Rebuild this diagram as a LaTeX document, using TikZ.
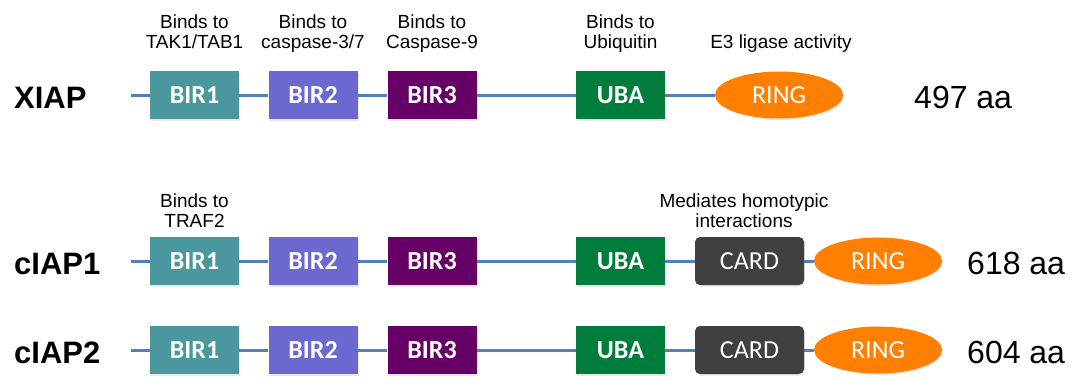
\documentclass[tikz,border=0pt]{standalone}
\usepackage{fontspec}
\setmainfont{Liberation Sans}
\newfontfamily\carlito{Carlito}
\usetikzlibrary{shapes.geometric,shadows}
\definecolor{cbirone}{HTML}{4A989E}
\definecolor{cbirtwo}{HTML}{6B69CF}
\definecolor{cbirthree}{HTML}{660066}
\definecolor{cuba}{HTML}{007D3C}
\definecolor{cring}{HTML}{FF8000}
\definecolor{ccard}{HTML}{404040}
\definecolor{cline}{HTML}{4F81BD}
\begin{document}
\begin{tikzpicture}[x=1pt,y=-1pt,
  dom/.style={rectangle, minimum width=89pt, minimum height=48pt, inner sep=0pt,
    text=white, font=\carlito\bfseries\fontsize{26}{26}\selectfont,
    drop shadow={shadow xshift=1pt, shadow yshift=-1.5pt, opacity=0.18}},
  cardbox/.style={rectangle, rounded corners=5pt, fill=ccard, minimum width=109pt, minimum height=48pt, inner sep=0pt,
    text=white, font=\carlito\fontsize{26}{26}\selectfont,
    drop shadow={shadow xshift=1pt, shadow yshift=-1.5pt, opacity=0.18}},
  ringnode/.style={ellipse, fill=cring, minimum width=128pt, minimum height=47pt, inner sep=0pt,
    text=white, font=\carlito\fontsize{26}{26}\selectfont,
    drop shadow={shadow xshift=1pt, shadow yshift=-1.5pt, opacity=0.18}},
  chain/.style={draw=cline, line width=3pt},
  protname/.style={anchor=base west, inner sep=0pt, font=\bfseries\fontsize{31}{31}\selectfont},
  aalen/.style={anchor=base west, inner sep=0pt, font=\fontsize{32}{32}\selectfont},
  note/.style={anchor=north, inner sep=0pt, align=center, font=\fontsize{19}{19.5}\selectfont},
  notebase/.style={anchor=base, inner sep=0pt, font=\fontsize{19}{19.5}\selectfont}
]
\useasboundingbox (0,0) rectangle (1079,378);

% ---------- XIAP ----------
\coordinate (s1) at (131,95);
\node[dom, fill=cbirone]   (a1) at (194.5,95) {BIR1};
\node[dom, fill=cbirtwo]   (b1) at (313,95) {BIR2};
\node[dom, fill=cbirthree] (c1) at (432,95) {BIR3};
\node[dom, fill=cuba]      (u1) at (620.5,95) {UBA};
\node[ringnode]            (r1) at (779,95) {RING};
\draw[chain] (s1) -- (a1.west);
\draw[chain] (a1.east) -- (b1.west);
\draw[chain] (b1.east) -- (c1.west);
\draw[chain] (c1.east) -- (u1.west);
\draw[chain] (u1.east) -- (r1.west);
\node[protname] (n1) at (14,108) {XIAP};
\node[aalen] (l1) at (914,108) {497 aa};
\node[note] (t1) at (194.5,15) {Binds to\\TAK1/TAB1};
\node[note] (t2) at (313,15) {Binds to\\caspase-3/7};
\node[note] (t3) at (432,15) {Binds to\\Caspase-9};
\node[note] (t4) at (620.5,15) {Binds to\\Ubiquitin};
\node[notebase] (t5) at (781,48) {E3 ligase activity};

% ---------- cIAP1 ----------
\coordinate (s2) at (131,261);
\node[dom, fill=cbirone]   (a2) at (194.5,261) {BIR1};
\node[dom, fill=cbirtwo]   (b2) at (313,261) {BIR2};
\node[dom, fill=cbirthree] (c2) at (432,261) {BIR3};
\node[dom, fill=cuba]      (u2) at (620.5,261) {UBA};
\node[cardbox]             (d2) at (749.5,261) {CARD};
\node[ringnode]            (r2) at (878,261) {RING};
\draw[chain] (s2) -- (a2.west);
\draw[chain] (a2.east) -- (b2.west);
\draw[chain] (b2.east) -- (c2.west);
\draw[chain] (c2.east) -- (u2.west);
\draw[chain] (u2.east) -- (d2.west);
\draw[chain] (d2.east) -- (r2.west);
\node[protname] (n2) at (14,274) {cIAP1};
\node[aalen] (l2) at (967,274) {618 aa};
\node[note] (t6) at (194.5,194) {Binds to\\TRAF2};
\node[note] (t7) at (744,194) {Mediates homotypic\\interactions};

% ---------- cIAP2 ----------
\coordinate (s3) at (131,350);
\node[dom, fill=cbirone]   (a3) at (194.5,350) {BIR1};
\node[dom, fill=cbirtwo]   (b3) at (313,350) {BIR2};
\node[dom, fill=cbirthree] (c3) at (432,350) {BIR3};
\node[dom, fill=cuba]      (u3) at (620.5,350) {UBA};
\node[cardbox]             (d3) at (749.5,350) {CARD};
\node[ringnode]            (r3) at (878,350) {RING};
\draw[chain] (s3) -- (a3.west);
\draw[chain] (a3.east) -- (b3.west);
\draw[chain] (b3.east) -- (c3.west);
\draw[chain] (c3.east) -- (u3.west);
\draw[chain] (u3.east) -- (d3.west);
\draw[chain] (d3.east) -- (r3.west);
\node[protname] (n3) at (14,363) {cIAP2};
\node[aalen] (l3) at (967,363) {604 aa};
\end{tikzpicture}
\end{document}
